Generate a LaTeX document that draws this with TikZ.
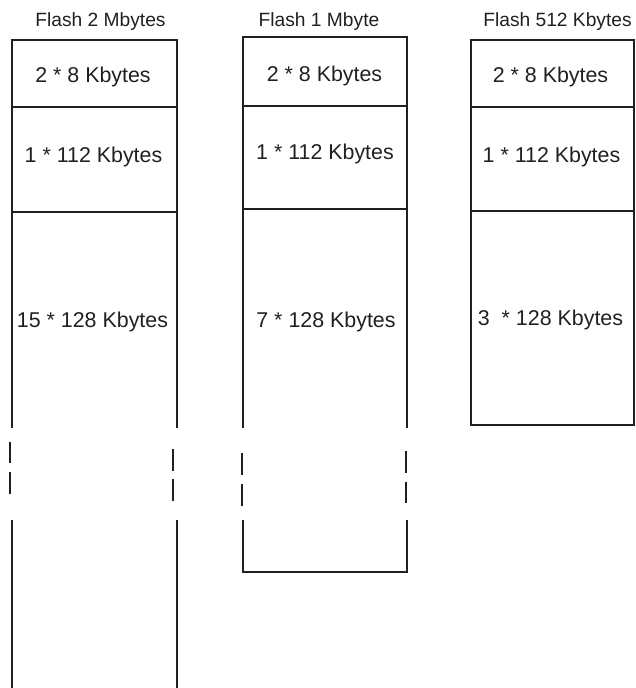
\documentclass[tikz,border=0pt]{standalone}
\usepackage{fontspec}
\setmainfont{Liberation Sans}
\definecolor{ink}{HTML}{231F20}
\begin{document}
\begin{tikzpicture}[x=1pt,y=-1pt,
  frame/.style={draw=ink, line width=1.8pt},
  cut/.style={draw=ink, line width=1.1pt},
  title/.style={font=\fontsize{19.2}{22}\selectfont, text=ink, anchor=base, inner sep=0pt},
  lbl/.style={font=\fontsize{21.4}{25}\selectfont, text=ink, anchor=base, inner sep=0pt}]
\useasboundingbox (0,0) rectangle (635,688);
% column 1: Flash 2 Mbytes
\draw[frame] (12,428) -- (12,40) -- (177,40) -- (177,428);
\draw[frame] (12,107) -- (177,107);
\draw[frame] (12,212) -- (177,212);
\draw[frame] (12,520) -- (12,692);
\draw[frame] (177,520) -- (177,692);
\draw[cut] (10,442) -- (10,463) (10,472) -- (10,494);
\draw[cut] (173,449) -- (173,471) (173,479) -- (173,501);
\node[title] (t1) at (100.5,27) {Flash 2 Mbytes};
\node[lbl] (a1) at (93,82.5) {2 * 8 Kbytes};
\node[lbl] (a2) at (93.5,162) {1 * 112 Kbytes};
\node[lbl] (a3) at (92.5,327) {15 * 128 Kbytes};
% column 2: Flash 1 Mbyte
\draw[frame] (243,428) -- (243,37) -- (407,37) -- (407,428);
\draw[frame] (243,106) -- (407,106);
\draw[frame] (243,209) -- (407,209);
\draw[frame] (243,520) -- (243,572) -- (407,572) -- (407,520);
\draw[cut] (242,453) -- (242,475) (242,484) -- (242,506);
\draw[cut] (406,451) -- (406,473) (406,482) -- (406,503);
\node[title] (t2) at (319,26) {Flash 1 Mbyte};
\node[lbl] (b1) at (324.5,81) {2 * 8 Kbytes};
\node[lbl] (b2) at (325,159) {1 * 112 Kbytes};
\node[lbl] (b3) at (326,327) {7 * 128 Kbytes};
% column 3: Flash 512 Kbytes
\draw[frame] (471,40) rectangle (634,425);
\draw[frame] (471,107) -- (634,107);
\draw[frame] (471,211) -- (634,211);
\node[title] (t3) at (557.5,27) {Flash 512 Kbytes};
\node[lbl] (c1) at (550.5,82) {2 * 8 Kbytes};
\node[lbl] (c2) at (551.5,162) {1 * 112 Kbytes};
\node[lbl] (c3) at (550.5,325) {3\ \ * 128 Kbytes};
\end{tikzpicture}
\end{document}
